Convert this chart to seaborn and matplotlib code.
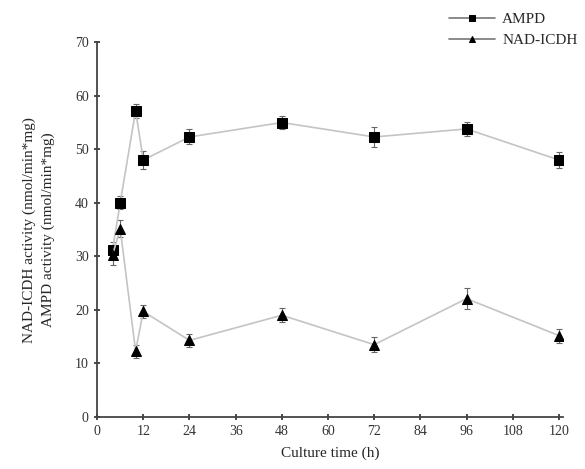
import seaborn as sns
import matplotlib.pyplot as plt
import pandas as pd

sns.set_theme(style="ticks")
plt.rcParams['font.family'] = ['Liberation Serif', 'DejaVu Serif']

time_h = [4, 6, 10, 12, 24, 48, 72, 96, 120]
ampd = [31.2, 40.0, 57.2, 48.0, 52.3, 55.0, 52.3, 53.8, 48.0]
ampd_err = [1.5, 1.2, 1.3, 1.6, 1.4, 1.3, 1.8, 1.3, 1.5]
icdh = [30.2, 35.2, 12.3, 19.7, 14.3, 19.0, 13.5, 22.1, 15.2]
icdh_err = [1.8, 1.5, 1.2, 1.2, 1.2, 1.3, 1.4, 2.0, 1.3]

df = pd.DataFrame({
    "time": time_h * 2,
    "value": ampd + icdh,
    "err": ampd_err + icdh_err,
    "enzyme": ["AMPD"] * len(time_h) + ["NAD-ICDH"] * len(time_h),
})

fig = plt.figure(figsize=(5.85, 4.69), dpi=100)
ax = fig.add_axes([0.166, 0.111, 0.796, 0.799])

for name in ["AMPD", "NAD-ICDH"]:
    d = df[df.enzyme == name]
    ax.errorbar(d.time, d.value, yerr=d.err, fmt="none", ecolor="#666666",
                elinewidth=0.8, capsize=2, capthick=0.8, zorder=2)

sns.lineplot(data=df, x="time", y="value", hue="enzyme", style="enzyme",
             markers={"AMPD": "s", "NAD-ICDH": "^"}, dashes=False,
             palette={"AMPD": "#c4c4c4", "NAD-ICDH": "#c4c4c4"},
             markersize=6.5, markerfacecolor="black", markeredgecolor="black",
             linewidth=1.2, ax=ax, zorder=3)

ax.set_xlim(0, 121)
ax.set_ylim(0, 70)
ax.set_xticks(range(0, 121, 12))
ax.set_yticks(range(0, 71, 10))
ax.tick_params(direction="inout", length=5, labelsize=10, colors="#333333")
for s in ["top", "right"]:
    ax.spines[s].set_visible(False)
for s in ["left", "bottom"]:
    ax.spines[s].set_linewidth(1.3)
    ax.spines[s].set_color("#444444")

ax.set_xlabel("Culture time (h)", fontsize=11, labelpad=6)
ax.set_ylabel("NAD-ICDH activity (nmol/min*mg)\nAMPD activity (nmol/min*mg)",
              fontsize=11, labelpad=14, linespacing=1.6)

h, l = ax.get_legend_handles_labels()
for hd in h:
    hd.set_markerfacecolor("black")
    hd.set_markeredgecolor("black")
    hd.set_color("#777777")
ax.legend(h, l, loc="upper right", bbox_to_anchor=(1.045, 1.095), frameon=False,
          fontsize=11, handlelength=3, borderaxespad=0, labelspacing=0.45,
          markerscale=0.75, handletextpad=0.5)

fig.savefig("out.png", dpi=100)
